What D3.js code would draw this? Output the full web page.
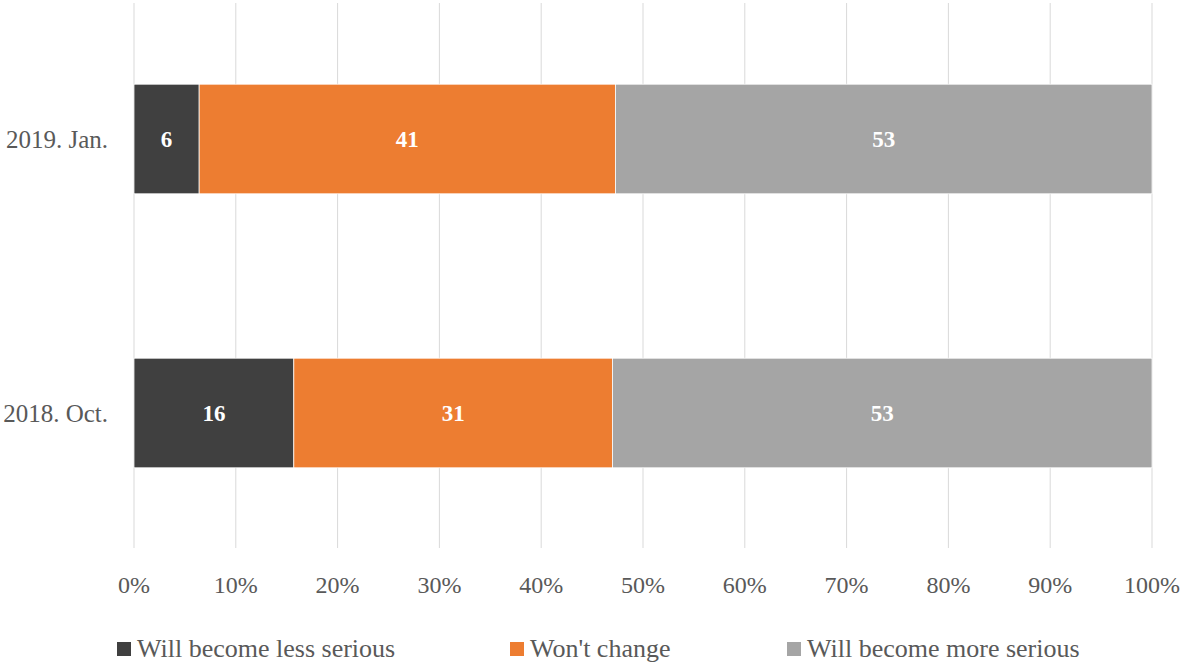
<!DOCTYPE html>
<html>
<head>
<meta charset="utf-8">
<script src="https://cdn.jsdelivr.net/npm/d3@7"></script>
<style>
  body { margin: 0; background: #fff; }
  svg text { font-family: "Liberation Serif", "DejaVu Serif", serif; }
</style>
</head>
<body>
<div id="chart"></div>
<script>
const categories = ["2019. Jan.", "2018. Oct."];
const seriesNames = ["Will become less serious", "Won't change", "Will become more serious"];
const lessSerious = [6.4, 15.7];
const noChange = [40.9, 31.3];
const moreSerious = [52.7, 53.0];
const labelLess = [6, 16];
const labelNoChange = [41, 31];
const labelMore = [53, 53];
const tickValues = [0, 0.1, 0.2, 0.3, 0.4, 0.5, 0.6, 0.7, 0.8, 0.9, 1];
const colors = ["#404040", "#ED7D31", "#A5A5A5"];

const WIDTH = 1183, HEIGHT = 665;
const M = { TOP: 3, LEFT: 134, RIGHT: 31, BOTTOM: 117 };

const svg = d3.select("#chart").append("svg")
  .attr("width", WIDTH).attr("height", HEIGHT);

const x = d3.scaleLinear().domain([0, 1]).range([M.LEFT, WIDTH - M.RIGHT]);
const y = d3.scaleBand().domain(categories)
  .range([2, HEIGHT - M.BOTTOM + 2]).paddingInner(0.6).paddingOuter(0.3);

// gridlines
svg.append("g").selectAll("line").data(tickValues).join("line")
  .attr("x1", d => x(d)).attr("x2", d => x(d))
  .attr("y1", M.TOP).attr("y2", HEIGHT - M.BOTTOM)
  .attr("stroke", "#d9d9d9").attr("stroke-width", 1);

// x tick labels
svg.append("g").selectAll("text").data(tickValues).join("text")
  .attr("x", d => x(d)).attr("y", 593)
  .attr("text-anchor", "middle")
  .attr("font-size", 24).attr("fill", "#595959")
  .text(d => d3.format(".0%")(d));

// stacked data
const rows = categories.map((c, i) => {
  const vals = [lessSerious[i], noChange[i], moreSerious[i]];
  const labels = [labelLess[i], labelNoChange[i], labelMore[i]];
  const total = d3.sum(vals);
  let acc = 0;
  return vals.map((v, k) => {
    const seg = { cat: c, k, x0: acc / total, x1: (acc + v) / total, label: labels[k] };
    acc += v;
    return seg;
  });
}).flat();

svg.append("g").selectAll("rect").data(rows).join("rect")
  .attr("x", d => x(d.x0))
  .attr("y", d => y(d.cat))
  .attr("width", d => x(d.x1) - x(d.x0))
  .attr("height", y.bandwidth())
  .attr("fill", d => colors[d.k])
  .attr("stroke", "#fff").attr("stroke-width", 0.75);

svg.append("g").selectAll("text").data(rows).join("text")
  .attr("x", d => (x(d.x0) + x(d.x1)) / 2)
  .attr("y", d => y(d.cat) + y.bandwidth() / 2)
  .attr("dy", "0.35em")
  .attr("text-anchor", "middle")
  .attr("font-size", 23).attr("font-weight", "bold").attr("fill", "#fff")
  .text(d => d.label);

// category labels
svg.append("g").selectAll("text").data(categories).join("text")
  .attr("x", 108)
  .attr("y", d => y(d) + y.bandwidth() / 2)
  .attr("dy", "0.35em")
  .attr("text-anchor", "end")
  .attr("font-size", 25).attr("fill", "#595959")
  .text(d => d);

// legend
const legendX = [117, 510, 787];
const legend = svg.append("g").selectAll("g").data(seriesNames).join("g")
  .attr("transform", (d, i) => `translate(${legendX[i]}, 642)`);
legend.append("rect")
  .attr("width", 14).attr("height", 14)
  .attr("fill", (d, i) => colors[i]);
legend.append("text")
  .attr("x", 20).attr("y", 15)
  .attr("font-size", 26).attr("fill", "#595959")
  .text(d => d);
</script>
</body>
</html>
